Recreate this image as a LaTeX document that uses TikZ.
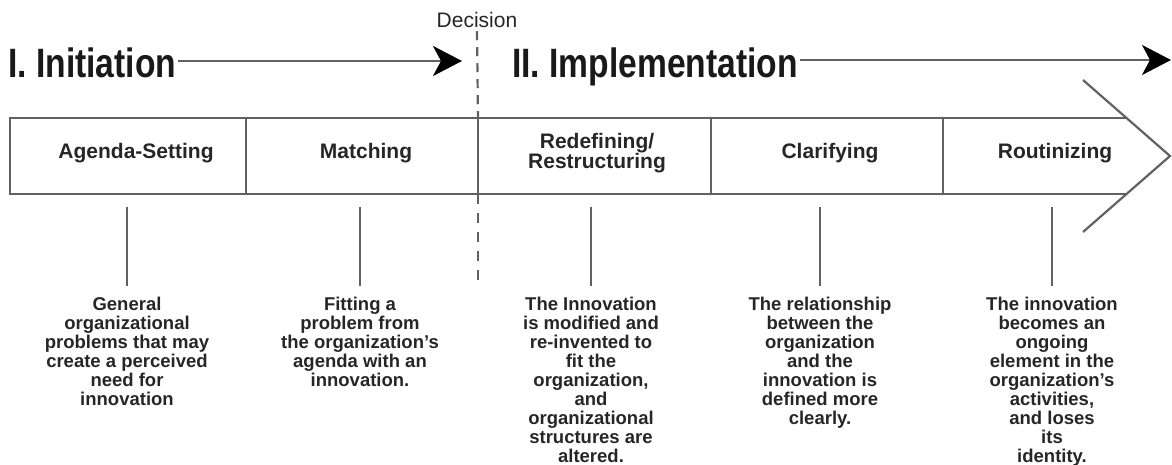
\documentclass[tikz,border=0pt]{standalone}
\usepackage{fontspec}
\setmainfont{Liberation Sans}
\newfontfamily\titlefont[FakeStretch=0.82]{Liberation Sans}
\usetikzlibrary{positioning,arrows.meta,calc}

\tikzset{
  rule/.style={draw=black!62, line width=2.6pt},
  thinrule/.style={draw=black!62, line width=2.2pt},
  phase/.style={font=\titlefont\fontsize{41}{46}\selectfont\bfseries, inner sep=0pt, anchor=base west, text=black!90},
  stagelbl/.style={font=\fontsize{21}{20}\selectfont\bfseries, align=center, text=black!85},
  desc/.style={font=\fontsize{18.5}{19}\selectfont\bfseries, align=center, anchor=north, inner sep=0pt, text=black!85},
  tip/.style={-{Stealth[length=29pt,width=30pt,inset=8pt,fill=black,color=black]}},
}

\begin{document}
\begin{tikzpicture}[x=1pt,y=-1pt]
\useasboundingbox (0,0) rectangle (1172,465);
% phases across the top
\node[phase] (init) at (8,78) {I. Initiation};
\node[phase] (impl) at (512,78) {II. Implementation};
\coordinate (inittip) at (462,61);
\coordinate (impltip) at (1171,60);
\draw[thinrule, tip, shorten <=2pt] (init.east |- inittip) -- (inittip);
\draw[thinrule, tip, shorten <=2pt] (impl.east |- impltip) -- (impltip);
% decision line
\node[font=\fontsize{21}{24}\selectfont, text=black!85] (dec) at (477,20) {Decision};
\coordinate (dectop) at (478,118);
\coordinate (decbot) at (478,194);
\coordinate (decend) at (478,286);
\draw[thinrule, dash pattern=on 9pt off 7pt] (dec.south) -- (dectop);
\draw[thinrule, dash pattern=on 10pt off 9pt] (decbot) -- (decend);
% stage box and chevron
\draw[rule] (1127,118) -- (10,118) -- (10,194) -- (1127,194);
\draw[thinrule, line join=miter] (1083,80) -- (1170,156) -- (1083,232);
\draw[rule] (246,118) -- (246,194);
\draw[rule] (dectop) -- (decbot);
\draw[rule] (711,118) -- (711,194);
\draw[rule] (943,118) -- (943,194);
% stages
\node[stagelbl] (agenda) at (136,153) {Agenda-Setting};
\node[stagelbl] (match) at (366,153) {Matching};
\node[stagelbl] (redef) at (597,153) {Redefining/\\Restructuring};
\node[stagelbl] (clar) at (830,153) {Clarifying};
\node[stagelbl] (rout) at (1055,153) {Routinizing};
% descriptions
\coordinate (lvl) at (0,207);
\node[desc] (agendatxt) at (127,297) {General\\organizational\\problems that may\\create a perceived\\need for\\innovation};
\node[desc] (matchtxt) at (360,297) {Fitting a\\problem from\\the organization's\\agenda with an\\innovation.};
\node[desc] (redeftxt) at (591,297) {The Innovation\\is modified and\\re-invented to\\fit the\\organization,\\and\\organizational\\structures are\\altered.};
\node[desc] (clartxt) at (820,297) {The relationship\\between the\\organization\\and the\\innovation is\\defined more\\clearly.};
\node[desc] (routtxt) at (1052,297) {The innovation\\becomes an\\ongoing\\element in the\\organization's\\activities,\\and loses\\its\\identity.};
\draw[thinrule, shorten >=11pt] (agendatxt |- lvl) -- (agendatxt.north);
\draw[thinrule, shorten >=11pt] (matchtxt |- lvl) -- (matchtxt.north);
\draw[thinrule, shorten >=11pt] (redeftxt |- lvl) -- (redeftxt.north);
\draw[thinrule, shorten >=11pt] (clartxt |- lvl) -- (clartxt.north);
\draw[thinrule, shorten >=11pt] (routtxt |- lvl) -- (routtxt.north);
\end{tikzpicture}
\end{document}
